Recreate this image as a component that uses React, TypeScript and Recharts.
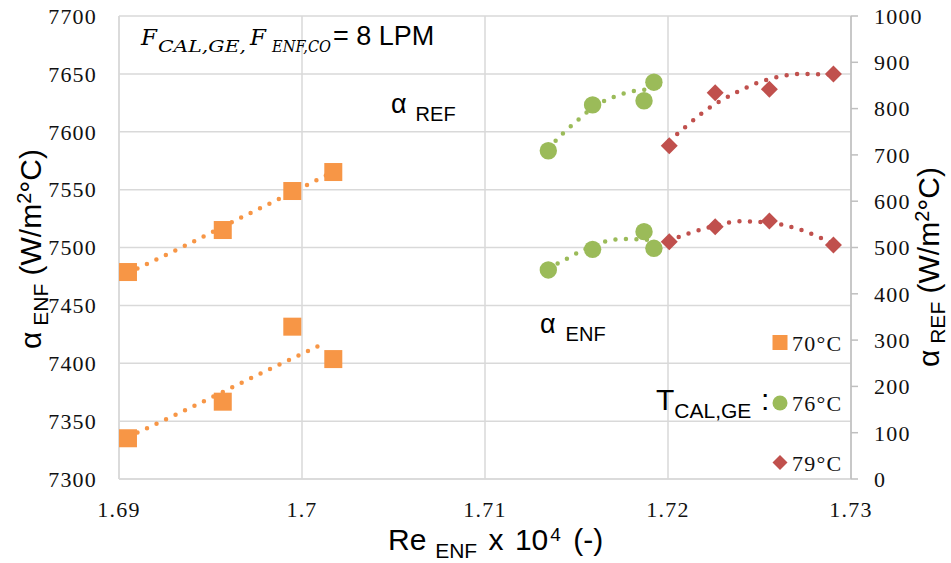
import { CartesianGrid, Scatter, ScatterChart, XAxis, YAxis } from "recharts";

const orange = "#F79646";
const green = "#9BBB59";
const red = "#C0504D";
const grid = "#D9D9D9";
const axisGray = "#BFBFBF";

const xTicks = [1.69, 1.7, 1.71, 1.72, 1.73];
const enfTicks = [7300, 7350, 7400, 7450, 7500, 7550, 7600, 7650, 7700];
const refTicks = [0, 100, 200, 300, 400, 500, 600, 700, 800, 900, 1000];

// measured points, Re x 10^4
const re70 = [1.69049, 1.69567, 1.69947, 1.70171];
const re76 = [1.71346, 1.71588, 1.71869, 1.71923];
const re79 = [1.72007, 1.72258, 1.72554, 1.72904];

// alpha ENF (left axis)
const enf70 = [7478.8, 7515.1, 7548.8, 7565.2];
const enf76 = [7480.6, 7498.4, 7513.7, 7499.3];
const enf79 = [7505.0, 7518.0, 7522.9, 7502.2];

// alpha REF (right axis)
const ref70 = [88, 167, 329, 259];
const ref76 = [709, 808, 817, 857];
const ref79 = [720, 834, 842, 875];

// trendlines
const trendEnf70x = [1.69049, 1.69379, 1.69652, 1.6987, 1.70089, 1.70169];
const trendEnf70y = [7478.0, 7503.0, 7524.6, 7541.6, 7558.9, 7565.2];
const trendRef70x = [1.69049, 1.69319, 1.69589, 1.69802, 1.70018, 1.70126];
const trendRef70y = [90.7, 140.4, 192.2, 233.3, 273.7, 294.4];
const trendEnf76x = [1.71346, 1.71441, 1.71536, 1.71641, 1.71756, 1.71869, 1.71923];
const trendEnf76y = [7481.9, 7489.8, 7497.8, 7504.5, 7507.3, 7506.9, 7506.1];
const trendRef76x = [1.71346, 1.71428, 1.71514, 1.71586, 1.71703, 1.71809, 1.71923];
const trendRef76y = [713.8, 747.3, 777.5, 801.3, 825.1, 837.4, 842.3];
const trendEnf79x = [1.72005, 1.72115, 1.7223, 1.72393, 1.72514, 1.7263, 1.72743, 1.72849, 1.72904];
const trendEnf79y = [7505.6, 7512.3, 7517.7, 7522.6, 7522.0, 7519.4, 7514.3, 7507.3, 7503.5];
const trendRef79x = [1.72007, 1.72097, 1.72187, 1.72288, 1.72392, 1.72497, 1.72607, 1.72725, 1.72843, 1.72904];
const trendRef79y = [730, 760.9, 790.5, 817.1, 838.7, 856.8, 868.9, 874.7, 874.1, 873];

const pts = (xs: number[], ys: number[]) => xs.map((x, i) => ({ x, y: ys[i] }));

const Square = (p: any) => <rect x={p.cx - 9} y={p.cy - 9} width={18} height={18} fill={orange} />;
const Dot = (p: any) => <circle cx={p.cx} cy={p.cy} r={8.7} fill={green} />;
const Diamond = (p: any) => (
  <path d={`M${p.cx},${p.cy - 8.5}L${p.cx + 8.5},${p.cy}L${p.cx},${p.cy + 8.5}L${p.cx - 8.5},${p.cy}Z`} fill={red} />
);
const NoShape = () => <g />;

const serif = "Liberation Serif";
const sans = "Liberation Sans";
const mathItalic = "DejaVu Serif";

function makeTick(anchor: "start" | "middle" | "end", dy: string) {
  return (p: any) => (
    <text x={p.x} y={p.y} dy={dy} textAnchor={anchor} fontFamily={serif} fontSize={22} letterSpacing={1.2} fill="#111">
      {p.payload.value}
    </text>
  );
}

function trendLine(color: string) {
  return { stroke: color, strokeWidth: 4.5, strokeDasharray: "0 10.5", strokeLinecap: "round" as const };
}

export default function App() {
  const trends = [
    { id: "l", data: pts(trendEnf70x, trendEnf70y), color: orange },
    { id: "r", data: pts(trendRef70x, trendRef70y), color: orange },
    { id: "l", data: pts(trendEnf76x, trendEnf76y), color: green },
    { id: "r", data: pts(trendRef76x, trendRef76y), color: green },
    { id: "l", data: pts(trendEnf79x, trendEnf79y), color: red },
    { id: "r", data: pts(trendRef79x, trendRef79y), color: red },
  ];
  return (
    <div style={{ position: "absolute", left: 0, top: 0, width: 951, height: 563, background: "#fff" }}>
      <ScatterChart width={951} height={563} margin={{ top: 16, right: 0, bottom: 0, left: 0 }}>
        <CartesianGrid yAxisId="l" stroke={grid} strokeWidth={1.5} />
        <XAxis
          type="number"
          dataKey="x"
          domain={[1.69, 1.73]}
          ticks={xTicks}
          height={84}
          tickLine={false}
          tickSize={0}
          tickMargin={22}
          axisLine={{ stroke: grid, strokeWidth: 1.5 }}
          tick={makeTick("middle", "0.71em")}
          allowDataOverflow
        />
        <YAxis
          yAxisId="l"
          type="number"
          dataKey="y"
          domain={[7300, 7700]}
          ticks={enfTicks}
          width={119}
          tickLine={false}
          tickSize={0}
          tickMargin={22}
          axisLine={{ stroke: grid, strokeWidth: 1.5 }}
          tick={makeTick("end", "0.355em")}
          allowDataOverflow
        />
        <YAxis
          yAxisId="r"
          orientation="right"
          type="number"
          dataKey="y"
          domain={[0, 1000]}
          ticks={refTicks}
          width={100}
          tickSize={7}
          tickMargin={16}
          tickLine={{ stroke: axisGray, strokeWidth: 1.5 }}
          axisLine={{ stroke: axisGray, strokeWidth: 1.5 }}
          tick={makeTick("start", "0.355em")}
          allowDataOverflow
        />
        {trends.map((t, i) => (
          <Scatter
            key={"t" + i}
            yAxisId={t.id}
            data={t.data}
            fill={t.color}
            shape={NoShape}
            line={trendLine(t.color)}
            lineJointType="monotoneX"
            isAnimationActive={false}
          />
        ))}
        <Scatter yAxisId="l" data={pts(re70, enf70)} shape={Square} isAnimationActive={false} />
        <Scatter yAxisId="r" data={pts(re70, ref70)} shape={Square} isAnimationActive={false} />
        <Scatter yAxisId="l" data={pts(re76, enf76)} shape={Dot} isAnimationActive={false} />
        <Scatter yAxisId="r" data={pts(re76, ref76)} shape={Dot} isAnimationActive={false} />
        <Scatter yAxisId="l" data={pts(re79, enf79)} shape={Diamond} isAnimationActive={false} />
        <Scatter yAxisId="r" data={pts(re79, ref79)} shape={Diamond} isAnimationActive={false} />
      </ScatterChart>

      <svg width={951} height={563} style={{ position: "absolute", left: 0, top: 0, pointerEvents: "none" }}>
        {/* axis titles */}
        <text transform="translate(41,249) rotate(-90)" textAnchor="middle" fontFamily={sans} fontSize={30} fill="#000">
          α<tspan fontSize={21} dy={7}> ENF</tspan>
          <tspan dy={-7}> (W/m</tspan>
          <tspan fontSize={20} dy={-10}>2</tspan>
          <tspan dy={10}>°C)</tspan>
        </text>
        <text transform="translate(939,267) rotate(-90)" textAnchor="middle" fontFamily={sans} fontSize={30} fill="#000">
          α<tspan fontSize={21} dy={6}> REF</tspan>
          <tspan dy={-6}> (W/m</tspan>
          <tspan fontSize={20} dy={-10}>2</tspan>
          <tspan dy={10}>°C)</tspan>
        </text>
        <text x={388} y={550} fontFamily={sans} fontSize={30} fill="#000">
          Re<tspan fontSize={21} dx={3} dy={8}> ENF</tspan>
          <tspan dx={3} dy={-8}> x </tspan>
          <tspan dx={3}>10</tspan>
          <tspan fontSize={19} dx={2} dy={-9}>4</tspan>
          <tspan dx={4} dy={9}> (-)</tspan>
        </text>

        {/* flow annotation */}
        <text x={141} y={45} fontFamily={mathItalic} fontStyle="italic" fontSize={23} fill="#000">F</text>
        <text x={158} y={52} fontFamily={mathItalic} fontStyle="italic" fontSize={17} fill="#000" textLength={88} lengthAdjust="spacingAndGlyphs">CAL,GE,</text>
        <text x={250} y={45} fontFamily={mathItalic} fontStyle="italic" fontSize={23} fill="#000">F</text>
        <text x={272} y={52} fontFamily={mathItalic} fontStyle="italic" fontSize={17} fill="#000" textLength={59} lengthAdjust="spacingAndGlyphs">ENF,CO</text>
        <text x={333} y={45} fontFamily={sans} fontSize={27} fill="#000">= 8 LPM</text>

        {/* group labels */}
        <text x={391} y={113} fontFamily={sans} fontSize={27} fill="#000">
          α<tspan fontSize={20} dx={9} dy={8}>REF</tspan>
        </text>
        <text x={540} y={333} fontFamily={sans} fontSize={27} fill="#000">
          α<tspan fontSize={20} dx={10} dy={8}>ENF</tspan>
        </text>

        {/* legend */}
        <text x={656} y={410} fontFamily={sans} fontSize={30} fill="#000">
          T<tspan fontSize={21} dy={8}>CAL,GE</tspan>
        </text>
        <text x={761} y={410} fontFamily={sans} fontSize={30} fill="#000">:</text>
        <rect x={772.5} y={335} width={15} height={15} fill={orange} />
        <circle cx={780} cy={403} r={7.5} fill={green} />
        <path d="M780,455L787.5,462.5L780,470L772.5,462.5Z" fill={red} />
        <text x={792} y={351} fontFamily={serif} fontSize={22} letterSpacing={1.2} fill="#111">70°C</text>
        <text x={792} y={411} fontFamily={serif} fontSize={22} letterSpacing={1.2} fill="#111">76°C</text>
        <text x={792} y={471} fontFamily={serif} fontSize={22} letterSpacing={1.2} fill="#111">79°C</text>
      </svg>
    </div>
  );
}
